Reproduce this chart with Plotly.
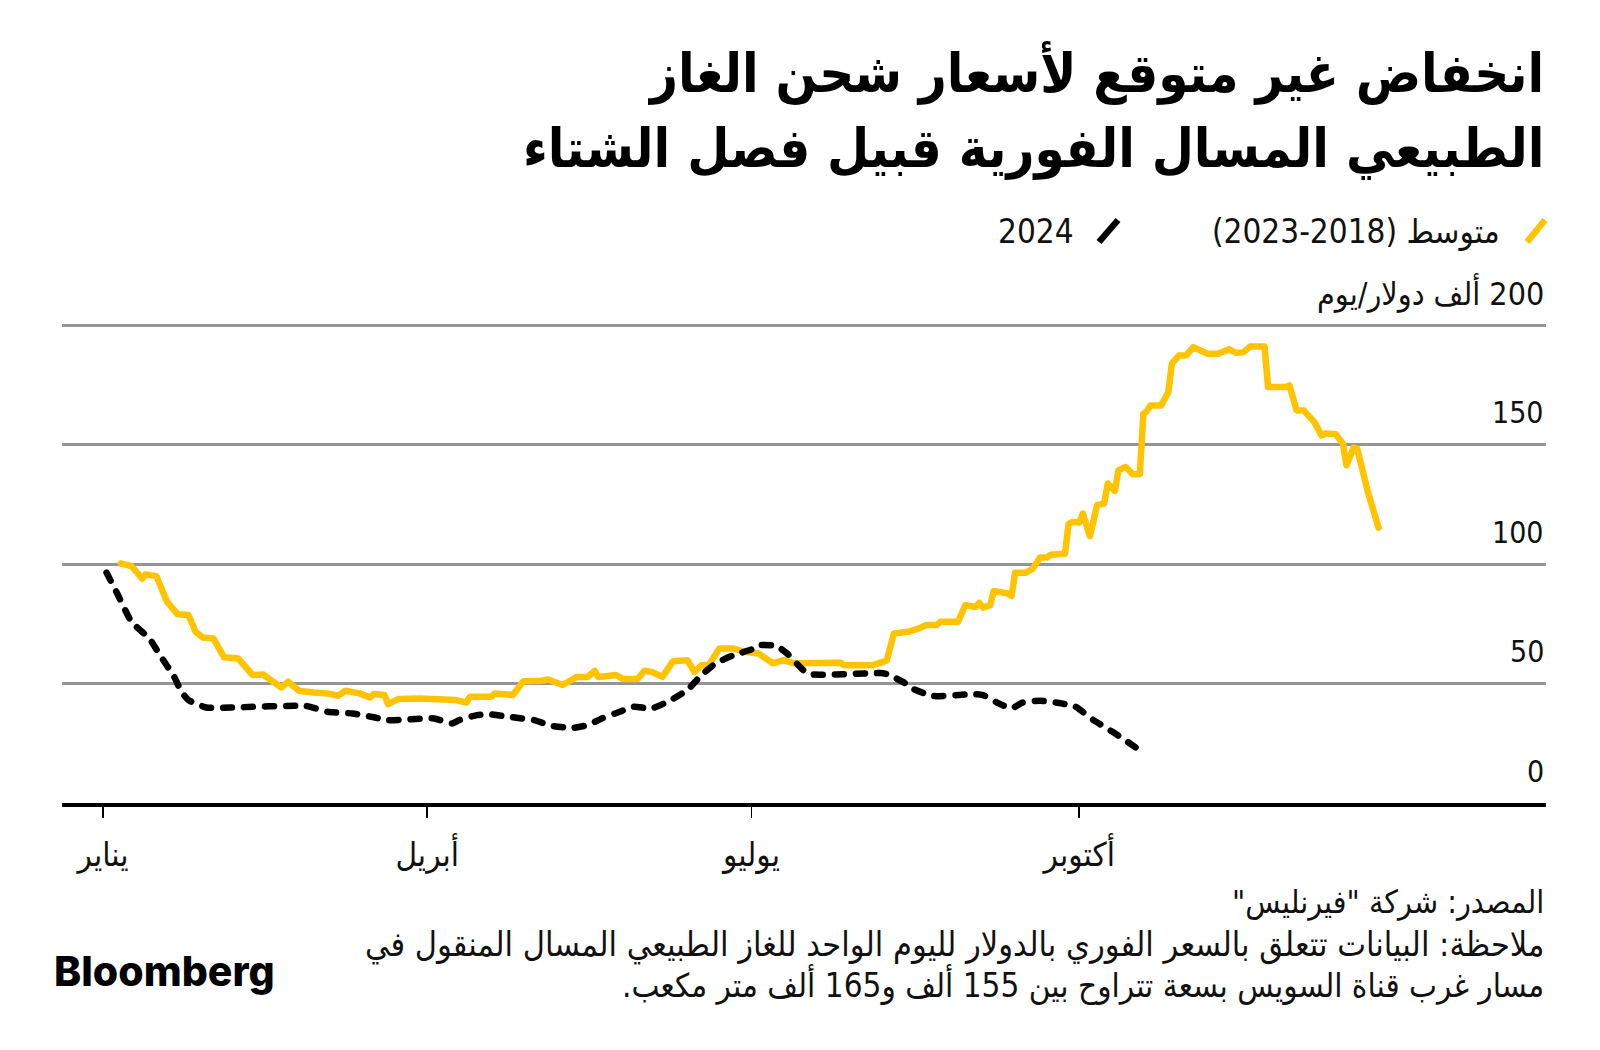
import plotly.graph_objects as go

# ---------------- data ----------------
avg_dates = [
    "2024-01-06", "2024-01-09", "2024-01-12", "2024-01-13", "2024-01-16", "2024-01-19",
    "2024-01-22", "2024-01-25", "2024-01-27", "2024-01-29", "2024-02-01", "2024-02-04",
    "2024-02-08", "2024-02-12", "2024-02-15", "2024-02-20", "2024-02-22", "2024-02-25",
    "2024-02-29", "2024-03-04", "2024-03-07", "2024-03-09", "2024-03-13", "2024-03-16",
    "2024-03-17", "2024-03-20", "2024-03-21", "2024-03-24", "2024-03-30", "2024-04-04",
    "2024-04-06", "2024-04-09", "2024-04-12", "2024-04-13", "2024-04-19", "2024-04-20",
    "2024-04-25", "2024-04-28", "2024-05-03", "2024-05-05", "2024-05-09", "2024-05-11",
    "2024-05-13", "2024-05-16", "2024-05-18", "2024-05-19", "2024-05-24", "2024-05-26",
    "2024-05-30", "2024-06-01", "2024-06-03", "2024-06-06", "2024-06-09", "2024-06-13",
    "2024-06-15", "2024-06-17", "2024-06-19", "2024-06-22", "2024-06-26", "2024-06-29",
    "2024-07-03", "2024-07-07", "2024-07-10", "2024-07-13", "2024-07-16", "2024-07-26",
    "2024-07-27", "2024-08-04", "2024-08-07", "2024-08-08", "2024-08-10", "2024-08-14",
    "2024-08-17", "2024-08-19", "2024-08-22", "2024-08-23", "2024-08-28", "2024-08-30",
    "2024-09-02", "2024-09-03", "2024-09-04", "2024-09-06", "2024-09-07", "2024-09-11",
    "2024-09-12", "2024-09-13", "2024-09-16", "2024-09-18", "2024-09-20", "2024-09-22",
    "2024-09-23", "2024-09-27", "2024-09-28", "2024-09-29", "2024-10-01", "2024-10-02",
    "2024-10-04", "2024-10-06", "2024-10-08", "2024-10-09", "2024-10-11", "2024-10-12",
    "2024-10-14", "2024-10-16", "2024-10-18", "2024-10-19", "2024-10-20", "2024-10-21",
    "2024-10-24", "2024-10-26", "2024-10-27", "2024-10-29", "2024-10-31", "2024-11-02",
    "2024-11-06", "2024-11-09", "2024-11-12", "2024-11-14", "2024-11-16", "2024-11-18",
    "2024-11-22", "2024-11-23", "2024-11-28", "2024-11-29", "2024-12-01", "2024-12-03",
    "2024-12-06", "2024-12-08", "2024-12-09", "2024-12-12", "2024-12-14", "2024-12-15",
    "2024-12-17", "2024-12-18", "2024-12-21", "2024-12-23", "2024-12-24",
]
avg_values = [
    100.3, 99.2, 94.0, 95.7, 95.0, 84.2,
    79.0, 78.7, 71.7, 69.3, 68.9, 61.0,
    60.5, 53.6, 53.8, 48.4, 50.8, 47.0,
    46.3, 45.9, 44.9, 47.0, 45.9, 44.2,
    45.6, 45.2, 41.4, 43.6, 43.8, 43.5,
    43.1, 43.1, 42.1, 44.5, 44.5, 45.9,
    45.2, 51.0, 51.2, 51.7, 49.4, 51.0,
    52.8, 52.8, 55.3, 52.8, 53.6, 51.9,
    51.9, 55.4, 54.9, 52.8, 59.4, 59.8,
    54.9, 57.7, 57.7, 64.7, 64.7, 63.3,
    62.6, 58.5, 59.8, 58.5, 58.5, 58.7,
    57.7, 57.7, 59.1, 59.8, 71.0, 71.7,
    73.1, 74.5, 74.5, 75.9, 75.9, 82.8,
    82.1, 83.8, 81.8, 82.8, 88.8, 87.7,
    86.6, 96.4, 96.4, 98.2, 102.8, 102.8,
    104.0, 104.4, 116.7, 117.7, 117.4, 121.2,
    111.7, 124.7, 125.4, 133.8, 130.7, 139.3,
    140.7, 137.7, 137.7, 163.0, 164.1, 166.5,
    166.5, 172.0, 184.0, 187.4, 187.4, 190.9,
    188.1, 188.1, 190.0, 188.5, 188.7, 191.2,
    191.2, 174.2, 174.2, 174.9, 164.4, 164.4,
    159.5, 153.9, 154.7, 154.4, 150.5, 141.4,
    148.8, 148.4, 130.3, 119.8, 115.3,
]

y2024_dates = [
    "2024-01-02", "2024-01-05", "2024-01-09", "2024-01-14", "2024-01-17", "2024-01-21",
    "2024-01-23", "2024-01-25", "2024-01-30", "2024-02-06", "2024-02-27", "2024-03-04",
    "2024-03-11", "2024-03-17", "2024-03-21", "2024-04-03", "2024-04-08", "2024-04-10",
    "2024-04-15", "2024-04-18", "2024-04-25", "2024-05-01", "2024-05-06", "2024-05-12",
    "2024-05-16", "2024-05-20", "2024-05-25", "2024-05-29", "2024-06-03", "2024-06-08",
    "2024-06-13", "2024-06-17", "2024-06-21", "2024-06-26", "2024-07-01", "2024-07-03",
    "2024-07-08", "2024-07-11", "2024-07-15", "2024-07-17", "2024-08-06", "2024-08-08",
    "2024-08-13", "2024-08-15", "2024-08-21", "2024-09-01", "2024-09-04", "2024-09-08",
    "2024-09-12", "2024-09-15", "2024-09-20", "2024-09-26", "2024-09-30", "2024-10-05",
    "2024-10-11", "2024-10-17",
]
y2024_values = [
    96.5, 87.7, 75.9, 68.9, 61.9, 52.8,
    46.6, 43.1, 40.0, 40.0, 40.6, 38.2,
    37.5, 35.9, 34.7, 35.4, 33.3, 34.7,
    36.8, 37.2, 35.9, 34.7, 32.3, 31.5,
    32.6, 35.4, 38.2, 40.3, 39.6, 42.8,
    47.3, 53.6, 58.5, 61.9, 64.3, 66.1,
    65.8, 62.6, 56.4, 54.0, 54.4, 54.0,
    50.3, 48.0, 44.8, 45.6, 45.2, 42.0,
    39.6, 42.0, 42.8, 41.7, 40.3, 34.7,
    29.2, 23.1,
]

month_ticks = ["2024-01-01", "2024-04-01", "2024-07-01", "2024-10-01"]
month_labels = ["يناير", "أبريل", "يوليو", "أكتوبر"]
y_ticks = [0, 50, 100, 150, 200]
y_labels = ["0", "50", "100", "150", "200 ألف دولار/يوم"]

title_lines = [
    "انخفاض غير متوقع لأسعار شحن الغاز",
    "الطبيعي المسال الفورية قبيل فصل الشتاء",
]
legend_labels = ["متوسط (2018-2023)", "2024"]
source_text = 'المصدر: شركة "فيرنليس"'
note_lines = [
    "ملاحظة: البيانات تتعلق بالسعر الفوري بالدولار لليوم الواحد للغاز الطبيعي المسال المنقول في",
    "مسار غرب قناة السويس بسعة تتراوح بين 155 ألف و165 ألف متر مكعب.",
]

# ---------------- styling ----------------
YELLOW = "#FFC300"
BLACK = "#000000"
GRID = "#959595"
TXT = "#111111"
FONT = "DejaVu Sans Condensed, DejaVu Sans, sans-serif"

W, H = 1600, 1050
L, R, T, B = 62, 54, 323, 247


def rtl(s):
    return "\u202b" + s + "\u202c"


def px(x):
    return (x - L) / (W - L - R)


def py(y):
    return (H - B - y) / (H - T - B)


fig = go.Figure()
fig.add_trace(go.Scatter(
    x=avg_dates, y=avg_values, mode="lines", name=legend_labels[0],
    line=dict(color=YELLOW, width=6.5), hoverinfo="skip",
))
fig.add_trace(go.Scatter(
    x=y2024_dates, y=y2024_values, mode="lines", name=legend_labels[1],
    line=dict(color=BLACK, width=6.5, dash="9px,12px", shape="spline", smoothing=0.5),
    hoverinfo="skip",
))

annotations = []
# title
for i, line in enumerate(title_lines):
    annotations.append(dict(
        text=rtl(line), xref="paper", yref="paper", x=px(1546), y=py(73 + 75 * i),
        xanchor="right", yanchor="middle", showarrow=False, align="right",
        font=dict(family=FONT, size=54, color=BLACK, weight="bold"),
    ))
# legend texts
annotations.append(dict(
    text=rtl(legend_labels[0]), xref="paper", yref="paper", x=px(1502), y=py(231),
    xanchor="right", yanchor="middle", showarrow=False,
    font=dict(family=FONT, size=33, color=TXT),
))
annotations.append(dict(
    text=rtl(legend_labels[1]), xref="paper", yref="paper", x=px(1076), y=py(231),
    xanchor="right", yanchor="middle", showarrow=False,
    font=dict(family=FONT, size=33, color=TXT),
))
# y tick labels above gridlines
for v, lab in zip(y_ticks, y_labels):
    annotations.append(dict(
        text=rtl(lab), xref="paper", yref="y", x=1, y=v, yshift=32,
        xanchor="right", yanchor="middle", showarrow=False,
        font=dict(family=FONT, size=32 if v == y_ticks[-1] else 30, color=TXT),
    ))
# footer
annotations.append(dict(
    text=rtl(source_text), xref="paper", yref="paper", x=px(1546), y=py(902),
    xanchor="right", yanchor="middle", showarrow=False,
    font=dict(family=FONT, size=32, color=TXT),
))
for i, line in enumerate(note_lines):
    annotations.append(dict(
        text=rtl(line), xref="paper", yref="paper", x=px(1546), y=py(944 + 40 * i),
        xanchor="right", yanchor="middle", showarrow=False,
        font=dict(family=FONT, size=34 if i == 0 else 33, color=TXT),
    ))
annotations.append(dict(
    text="Bloomberg", xref="paper", yref="paper", x=px(52), y=py(971),
    xanchor="left", yanchor="middle", showarrow=False,
    font=dict(family="Inter, Roboto, sans-serif", size=41, color=BLACK, weight=800),
))

shapes = [
    dict(type="line", xref="paper", yref="paper", x0=px(1527), y0=py(242), x1=px(1545), y1=py(220),
         line=dict(color=YELLOW, width=6.5)),
    dict(type="line", xref="paper", yref="paper", x0=px(1099), y0=py(242), x1=px(1118), y1=py(220),
         line=dict(color=BLACK, width=6.5)),
]

fig.update_layout(
    width=W, height=H,
    margin=dict(l=L, r=R, t=T, b=B, pad=0),
    paper_bgcolor="white", plot_bgcolor="white",
    showlegend=False,
    annotations=annotations,
    shapes=shapes,
    font=dict(family=FONT, color=TXT),
    xaxis=dict(
        type="date", range=["2023-12-20 12:00", "2025-02-09"],
        tickmode="array", tickvals=month_ticks, ticktext=month_labels,
        ticks="outside", ticklen=11, tickwidth=1.5, tickcolor=BLACK,
        showline=True, linecolor=BLACK, linewidth=4,
        showgrid=False, zeroline=False,
        tickfont=dict(family=FONT, size=33, color=TXT),
        ticklabelstandoff=8, fixedrange=True,
    ),
    yaxis=dict(
        range=[0, 201], tickmode="array", tickvals=y_ticks[1:],
        showticklabels=False, ticks="",
        showgrid=True, gridcolor=GRID, gridwidth=3,
        zeroline=False, showline=False, fixedrange=True,
    ),
)

post = """
document.body.style.margin='0';
document.body.style.padding='0';
document.querySelectorAll('.scatterlayer .trace path.js-line').forEach(function(p){
  p.style.strokeLinecap='round'; p.style.strokeLinejoin='round';
});
"""
fig.write_html("out.html", post_script=post, config={"displayModeBar": False, "staticPlot": True})
